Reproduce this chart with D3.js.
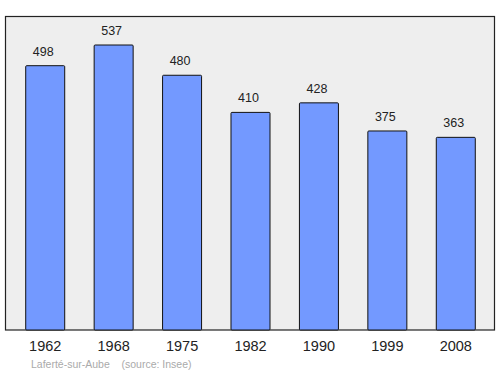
<!DOCTYPE html>
<html>
<head>
<meta charset="utf-8">
<script src="https://cdn.jsdelivr.net/npm/d3@7"></script>
<style>
  body { margin: 0; background: #fff; }
  text { font-family: "Liberation Sans", Arial, sans-serif; }
</style>
</head>
<body>
<script>
// census years and population
var years = ["1962", "1968", "1975", "1982", "1990", "1999", "2008"];
var population = [498, 537, 480, 410, 428, 375, 363];
var commune = "Laferté-sur-Aube";
var source = "(source: Insee)";

var width = 500, height = 374;
// frame of the plot
var frame = {left: 5.5, top: 16.5, right: 494.5, bottom: 330};

var svg = d3.select("body").append("svg")
    .attr("width", width)
    .attr("height", height);

svg.append("rect")
    .attr("x", frame.left)
    .attr("y", frame.top)
    .attr("width", frame.right - frame.left)
    .attr("height", frame.bottom - frame.top)
    .attr("fill", "#eeeeee")
    .attr("stroke", "#222")
    .attr("stroke-width", 1.2);

var x = d3.scaleBand()
    .domain(years)
    .range([11, 490])
    .paddingInner(0.43)
    .paddingOuter(0.215);

var y = d3.scaleLinear()
    .domain([0, d3.max(population) * 1.1])
    .range([frame.bottom, frame.top]);

var data = years.map(function(d, i) { return {year: d, pop: population[i]}; });

svg.selectAll("rect.bar")
    .data(data)
    .enter().append("rect")
    .attr("class", "bar")
    .attr("x", function(d) { return x(d.year); })
    .attr("y", function(d) { return y(d.pop); })
    .attr("width", x.bandwidth())
    .attr("height", function(d) { return frame.bottom - y(d.pop); })
    .attr("rx", 1)
    .attr("fill", "#7399ff")
    .attr("stroke", "#111")
    .attr("stroke-width", 1);

// value labels
svg.selectAll("text.val")
    .data(data)
    .enter().append("text")
    .attr("class", "val")
    .attr("x", function(d) { return x(d.year) + x.bandwidth() / 2 - 2; })
    .attr("y", function(d) { return y(d.pop) - 10; })
    .attr("text-anchor", "middle")
    .attr("font-size", 12.5)
    .attr("fill", "#222")
    .text(function(d) { return d.pop; });

// year axis (no line, no ticks)
var xAxis = d3.axisBottom(x).tickSize(0).tickPadding(11);
var gx = svg.append("g")
    .attr("transform", "translate(0," + frame.bottom + ")")
    .call(xAxis);
gx.select(".domain").remove();
gx.selectAll("text")
    .attr("font-size", 14.5)
    .attr("font-family", "'Liberation Sans', Arial, sans-serif")
    .attr("fill", "#222");

// footer
svg.append("text")
    .attr("x", 31)
    .attr("y", 368)
    .attr("font-size", 10.5)
    .attr("fill", "#aaaaaa")
    .attr("xml:space", "preserve")
    .text(commune + "    " + source);
</script>
</body>
</html>
